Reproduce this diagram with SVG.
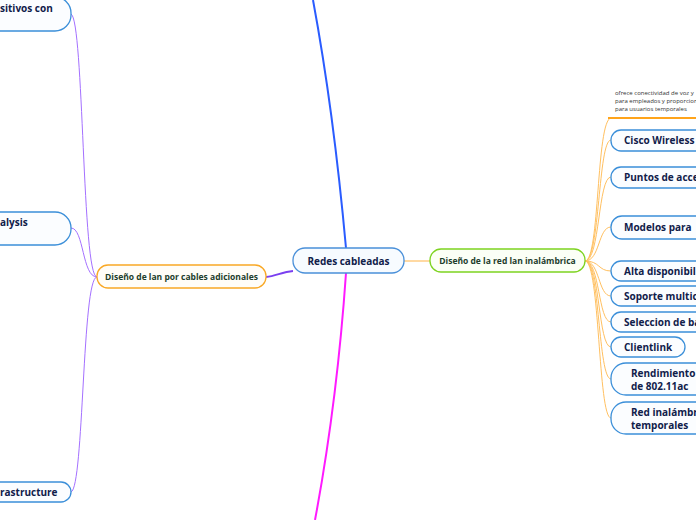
<svg xmlns="http://www.w3.org/2000/svg" width="696" height="520" viewBox="0 0 696 520">
<style>
.bn{fill:#fbfdff;stroke:#3b8fd9;stroke-width:1.3}
.bt{font-family:"Open Sans","Noto Sans",sans-serif;font-weight:bold;font-size:10px;fill:#10204a}
.sub{font-family:"Open Sans","Noto Sans",sans-serif;font-weight:bold;font-size:8.5px;fill:#1d3d2c}
.note{font-family:"Open Sans","Noto Sans",sans-serif;font-size:6px;fill:#333}
.lf{fill:none;stroke:#a470ff;stroke-width:1}
.rf{fill:none;stroke:#ffc060;stroke-width:1}
</style>
<rect width="696" height="520" fill="#ffffff"/>
<g id="connectors">
<path d="M346,248 C338,160 326,70 313,0" fill="none" stroke="#2a5cff" stroke-width="2"/>
<path d="M346,273 C340,360 330,440 315,520" fill="none" stroke="#ff1aff" stroke-width="2"/>
<path d="M293,271 C282,272 276,276 266,277" fill="none" stroke="#7a3ff0" stroke-width="2"/>
<path d="M404,261 L430,261" fill="none" stroke="#ffb347" stroke-width="1"/>
<path class="lf" d="M97,277 C82,277 84,20 71,14"/>
<path class="lf" d="M97,277 C82,277 84,228 71,228"/>
<path class="lf" d="M97,277 C82,277 84,488 71,492"/>
<path class="rf" d="M585,261 C600,261 596,120 611,118"/>
<path class="rf" d="M585,261 C600,261 598,140 611,140"/>
<path class="rf" d="M585,261 C600,261 598,177 611,177"/>
<path class="rf" d="M585,261 C600,261 598,227 611,227"/>
<path class="rf" d="M585,261 C600,261 598,271 611,271"/>
<path class="rf" d="M585,261 C600,261 598,296 611,296"/>
<path class="rf" d="M585,261 C600,261 598,322 611,322"/>
<path class="rf" d="M585,261 C600,261 598,347 611,347"/>
<path class="rf" d="M585,261 C600,261 598,379 611,379"/>
<path class="rf" d="M585,261 C600,261 598,418 611,418"/>
</g>
<g id="n-dispositivos">
<rect class="bn" x="-40" y="-3" width="111" height="34" rx="16"/>
<text class="bt" x="0" y="12">sitivos con</text>
</g>
<g id="n-analysis">
<rect class="bn" x="-40" y="212" width="111" height="33" rx="16"/>
<text class="bt" x="0" y="226">alysis</text>
</g>
<g id="n-infrastructure">
<rect class="bn" x="-40" y="482" width="111" height="20" rx="10"/>
<text class="bt" x="0" y="496">rastructure</text>
</g>
<g id="n-cables">
<rect x="97" y="265" width="169" height="23" rx="11" fill="#fffdf8" stroke="#f9a825" stroke-width="1.3"/>
<text class="sub" x="181.5" y="280" text-anchor="middle">Diseño de lan por cables adicionales</text>
</g>
<g id="n-root">
<rect x="293" y="248" width="111" height="25" rx="12" fill="#f7fbff" stroke="#4a90d9" stroke-width="1.3"/>
<text class="bt" x="348.5" y="265" text-anchor="middle" font-size="11">Redes cableadas</text>
</g>
<g id="n-inalambrica">
<rect x="430" y="249" width="155" height="23" rx="11" fill="#fbfff6" stroke="#7ed321" stroke-width="1.3"/>
<text class="sub" x="507.5" y="264" text-anchor="middle">Diseño de la red lan inalámbrica</text>
</g>
<g id="n-note">
<text class="note" x="615" y="95">ofrece conectividad de voz y</text>
<text class="note" x="615" y="103">para empleados y proporcion</text>
<text class="note" x="615" y="111">para usuarios temporales</text>
<line x1="608" y1="118" x2="696" y2="118" stroke="#ffa41b" stroke-width="2"/>
</g>
<g id="n-cisco">
<rect class="bn" x="611" y="130" width="120" height="21" rx="10"/>
<text class="bt" x="624" y="144">Cisco Wireless</text>
</g>
<g id="n-puntos">
<rect class="bn" x="611" y="167" width="120" height="21" rx="10"/>
<text class="bt" x="624" y="181">Puntos de acce</text>
</g>
<g id="n-modelos">
<rect class="bn" x="611" y="216" width="120" height="23" rx="11"/>
<text class="bt" x="624" y="231">Modelos para</text>
</g>
<g id="n-alta">
<rect class="bn" x="611" y="261" width="120" height="20" rx="10"/>
<text class="bt" x="624" y="275">Alta disponibil</text>
</g>
<g id="n-soporte">
<rect class="bn" x="611" y="286" width="120" height="20" rx="10"/>
<text class="bt" x="624" y="300">Soporte multic</text>
</g>
<g id="n-seleccion">
<rect class="bn" x="611" y="312" width="120" height="20" rx="10"/>
<text class="bt" x="624" y="326">Seleccion de ba</text>
</g>
<g id="n-clientlink">
<rect class="bn" x="611" y="337" width="74" height="20" rx="10"/>
<text class="bt" x="624" y="351">Clientlink</text>
</g>
<g id="n-rendimiento">
<rect class="bn" x="611" y="363" width="120" height="32" rx="15"/>
<text class="bt" x="631" y="377">Rendimiento</text>
<text class="bt" x="631" y="390">de 802.11ac</text>
</g>
<g id="n-red">
<rect class="bn" x="611" y="402" width="120" height="32" rx="15"/>
<text class="bt" x="631" y="416">Red inalámbr</text>
<text class="bt" x="631" y="429">temporales</text>
</g>
</svg>
